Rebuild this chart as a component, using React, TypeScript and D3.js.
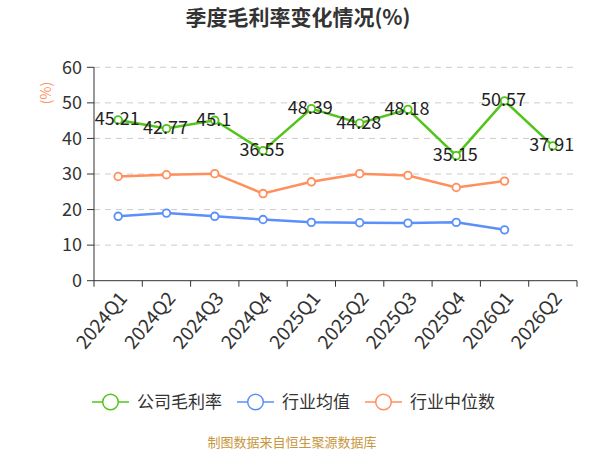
import React from "react";
import * as d3 from "d3";

const quarters = [
  "2024Q1", "2024Q2", "2024Q3", "2024Q4",
  "2025Q1", "2025Q2", "2025Q3", "2025Q4",
  "2026Q1", "2026Q2",
];
const companyMargin = [45.21, 42.77, 45.1, 36.55, 48.39, 44.28, 48.18, 35.15, 50.57, 37.91];
const industryMean = [18.1, 19.0, 18.1, 17.2, 16.4, 16.3, 16.2, 16.4, 14.3];
const industryMedian = [29.3, 29.8, 30.1, 24.5, 27.8, 30.1, 29.6, 26.2, 28.0];
const yTicks = [0, 10, 20, 30, 40, 50, 60];

const GREEN = "#52c41a";
const BLUE = "#5b8ff9";
const ORANGE = "#ff8f5c";
const FONT = "'Noto Sans CJK SC', 'Noto Sans', sans-serif";

const width = 600;
const height = 450;

const series = [
  { name: "公司毛利率", values: companyMargin, color: GREEN },
  { name: "行业均值", values: industryMean, color: BLUE },
  { name: "行业中位数", values: industryMedian, color: ORANGE },
];

const App: React.FC = () => {
  const x = d3.scaleBand<string>().domain(quarters).range([94, 577]);
  const y = d3.scaleLinear().domain([0, 60]).range([280.7, 67.3]);
  const cx = (i: number) => (x(quarters[i]) ?? 0) + x.bandwidth() / 2;

  const line = d3
    .line<number>()
    .x((_, i) => cx(i))
    .y((d) => y(d));

  // legend layout: icon 37px, gap 8px, text, 15px between items
  const legendFont = 17;
  let lx = 92;
  const legendItems = series.map((s) => {
    const item = { ...s, x: lx };
    lx += 37 + 8 + s.name.length * legendFont + 15;
    return item;
  });

  return (
    <div style={{ position: "absolute", left: 0, top: 0 }}>
      <svg width={width} height={height} style={{ fontFamily: FONT, display: "block" }}>
        <rect width={width} height={height} fill="#fff" />
        <text x={298} y={18} dy="0.35em" textAnchor="middle" fontSize={21} fontWeight="bold" fill="#333">
          季度毛利率变化情况(%)
        </text>

        {/* grid */}
        {yTicks.filter((t) => t > 0).map((t) => (
          <line key={t} x1={94} x2={577} y1={y(t)} y2={y(t)} stroke="#ccc" strokeDasharray="6,5" />
        ))}

        {/* y axis */}
        <line x1={94} x2={94} y1={y(60)} y2={y(0)} stroke="#333" />
        {yTicks.map((t) => (
          <g key={t}>
            <line x1={87} x2={94} y1={y(t)} y2={y(t)} stroke="#333" />
            <text x={82} y={y(t)} dy="0.35em" textAnchor="end" fontSize={18} fill="#333">
              {t}
            </text>
          </g>
        ))}
        <text
          transform={`translate(46,93) rotate(-90)`}
          textAnchor="middle"
          dy="0.35em"
          fontSize={14}
          fill={ORANGE}
        >
          (%)
        </text>

        {/* x axis */}
        <line x1={94} x2={577} y1={y(0)} y2={y(0)} stroke="#333" />
        {d3.range(quarters.length + 1).map((i) => {
          const tx = 94 + i * x.bandwidth();
          return <line key={i} x1={tx} x2={tx} y1={y(0)} y2={y(0) + 6} stroke="#333" />;
        })}
        {quarters.map((q, i) => (
          <text
            key={q}
            transform={`translate(${cx(i) + 5},${y(0) + 14}) rotate(-50)`}
            textAnchor="end"
            dy="0.35em"
            fontSize={19}
            fill="#333"
          >
            {q}
          </text>
        ))}

        {/* series */}
        {series.map((s) => (
          <g key={s.name}>
            <path d={line(s.values) ?? ""} fill="none" stroke={s.color} strokeWidth={2.5} />
            {s.values.map((v, i) => (
              <circle key={i} cx={cx(i)} cy={y(v)} r={3.8} fill="#fff" stroke={s.color} strokeWidth={1.8} />
            ))}
          </g>
        ))}
        {companyMargin.map((v, i) => (
          <text
            key={i}
            x={cx(i) - 1}
            y={y(v)}
            dy="0.3em"
            textAnchor="middle"
            fontSize={18}
            fill="#222"
          >
            {v}
          </text>
        ))}

        {/* legend */}
        {legendItems.map((s) => (
          <g key={s.name} transform={`translate(${s.x},402)`}>
            <line x1={0} x2={37} y1={0} y2={0} stroke={s.color} strokeWidth={1.5} />
            <circle cx={18.5} cy={0} r={7.8} fill="#fff" stroke={s.color} strokeWidth={1.5} />
            <text x={45} y={0} dy="0.35em" fontSize={legendFont} fill="#333">
              {s.name}
            </text>
          </g>
        ))}

        <text x={292} y={442} dy="0.35em" textAnchor="middle" fontSize={13} fill="#c8963e">
          制图数据来自恒生聚源数据库
        </text>
      </svg>
    </div>
  );
};

export default App;
